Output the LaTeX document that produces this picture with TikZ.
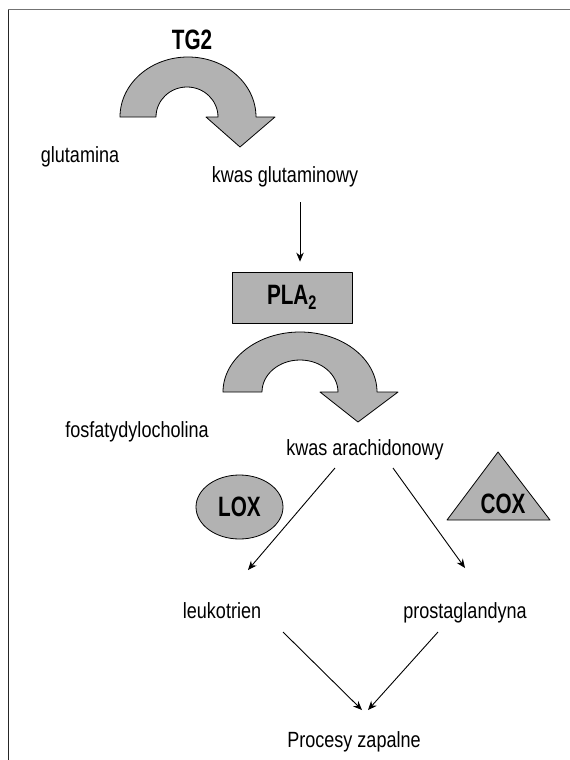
\documentclass[tikz,border=0pt]{standalone}
\usepackage{fontspec}
\setmainfont{Liberation Sans}[FakeStretch=0.82]
\newfontfamily\bfc{Liberation Sans Bold}[FakeStretch=0.74]
\usetikzlibrary{arrows.meta,shapes.geometric,calc}
\definecolor{shapegray}{RGB}{178,178,178}
\tikzset{
  lbl/.style={inner sep=0pt, anchor=base, font=\fontsize{22}{24}\selectfont},
  enz/.style={inner sep=0pt, font=\bfc\fontsize{28}{30}\selectfont},
  band/.style={fill=shapegray, draw=black, line width=0.8pt, line join=round},
  arr/.style={draw=black, line width=0.9pt, -{Stealth[length=9pt,width=7.5pt]}}
}
\begin{document}
\begin{tikzpicture}[x=1pt,y=-1pt]
\useasboundingbox (0,0) rectangle (570,760);
% frame
\draw[black!55, line width=1pt] (570,10) -- (8,10);
\draw[black!85, line width=1pt] (8,10) -- (8,760);

% TG2 curved arrow
\node[enz, anchor=base] (tg2) at (192,50) {TG2};
\draw[band] (120,117) arc[start angle=180, end angle=0, x radius=68pt, y radius=60pt]
  -- (275,117) -- (240,147) -- (206,117) -- (218,117)
  arc[start angle=0, end angle=180, x radius=31pt, y radius=30pt] -- cycle;

\node[lbl] (glu) at (80,162) {glutamina};
\node[lbl] (kg) at (285,182) {kwas glutaminowy};

% PLA2 box
\node[band, rectangle, minimum width=120pt, minimum height=51pt, inner sep=0pt,
      font=\bfc\fontsize{28}{30}\selectfont] (pla) at (292,297.5) {PLA\textsubscript{2}};

% PLA2 curved arrow
\draw[band] (223,392) arc[start angle=180, end angle=0, x radius=77pt, y radius=60pt]
  -- (398,392) -- (358,422) -- (320,392) -- (338,392)
  arc[start angle=0, end angle=180, x radius=38pt, y radius=32pt] -- cycle;

\node[lbl] (fos) at (137,437) {fosfatydylocholina};
\node[lbl] (ka) at (365,455) {kwas arachidonowy};

% LOX
\node[band, ellipse, minimum width=87pt, minimum height=64pt, inner sep=0pt,
      font=\bfc\fontsize{28}{30}\selectfont] (lox) at (239.5,507) {LOX};
% COX
\draw[band] (447,520) -- (550,520) -- (498,452) -- cycle;
\node[enz] (cox) at (503,504) {COX};

\node[lbl] (leu) at (222,618) {leukotrien};
\node[lbl] (pro) at (465,618) {prostaglandyna};
\node[lbl] (pz) at (354,747) {Procesy zapalne};

% connectors
\draw[arr] ($(kg.base)+(15,20)$) -- ($(pla.north)+(8,-10)$);
\draw[arr] ($(ka.base)+(-30,13)$) -- ($(leu.base)+(26,-48)$);
\draw[arr] ($(ka.base)+(28,13)$) -- ($(pro.base)+(0,-50)$);
\draw[arr] ($(leu.base)+(61,14)$) -- ($(pz.base)+(8,-37)$);
\draw[arr] ($(pro.base)+(-27,14)$) -- ($(pz.base)+(14,-37)$);
\end{tikzpicture}
\end{document}
